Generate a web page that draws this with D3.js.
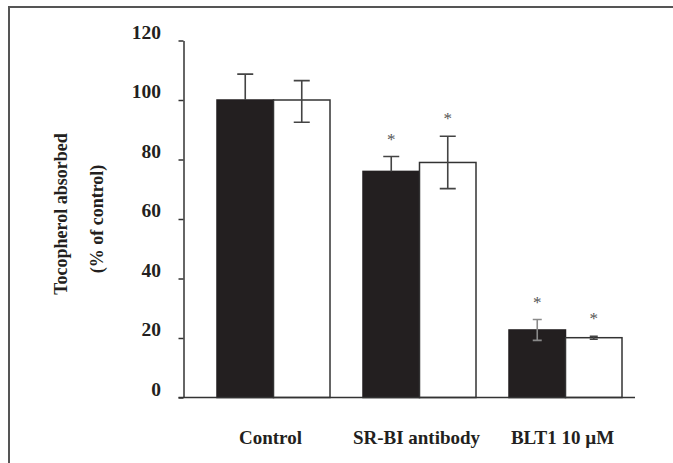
<!DOCTYPE html>
<html>
<head>
<meta charset="utf-8">
<script src="https://cdn.jsdelivr.net/npm/d3@7"></script>
<style>
  body { margin: 0; background: #fff; }
  text { font-family: "Liberation Serif", "Times New Roman", serif; font-weight: bold; }
</style>
</head>
<body>
<div id="chart"></div>
<script>
// values (% of control)
var categories = ["Control", "SR-BI antibody", "BLT1 10 \u00b5M"];
var seriesNames = ["dark", "open"];
var darkValues = [100, 76, 22.7];
var openValues = [100, 79, 20.1];
var darkErrUp = [8.7, 5, 3.5];
var darkErrDown = [0, 0, 3.5];
var openErrUp = [6.5, 8.8, 0.5];
var openErrDown = [7.5, 8.8, 0.5];
var darkStar = [false, true, true];
var openStar = [false, true, true];
var yTicks = [0, 20, 40, 60, 80, 100, 120];

var width = 673,
    height = 463,
    axisX = 183.5,
    baseY = 397.5,
    topY = 40.5;

var rows = [];
categories.forEach(function(c, i) {
  rows.push({cat: c, s: "dark", v: darkValues[i], up: darkErrUp[i], dn: darkErrDown[i], star: darkStar[i], cap: i == 2 ? 4.5 : 8});
  rows.push({cat: c, s: "open", v: openValues[i], up: openErrUp[i], dn: openErrDown[i], star: openStar[i], cap: i == 2 ? 4 : 8});
});

var svg = d3.select("#chart")
  .append("svg")
  .attr("width", width)
  .attr("height", height);

svg.append("rect")
  .attr("width", width)
  .attr("height", height)
  .style("fill", "#fff");

// frame (top and left edges only are visible)
svg.append("path")
  .attr("d", "M9,463 V7 H673")
  .style("fill", "none")
  .style("stroke", "#555")
  .style("stroke-width", 2);

var x0 = d3.scaleBand()
  .domain(categories)
  .range([200.5, 638.5])
  .paddingInner(0.226)
  .paddingOuter(0.113);

var x1 = d3.scaleBand()
  .domain(seriesNames)
  .range([0, x0.bandwidth()]);

var y = d3.scaleLinear()
  .domain([0, 120])
  .range([baseY, topY]);

var fill = d3.scaleOrdinal().domain(seriesNames).range(["#231f20", "#ffffff"]);

// y axis
var yAxis = svg.append("g")
  .attr("transform", "translate(" + axisX + ",0)")
  .call(d3.axisLeft(y).tickValues(yTicks).tickSize(5).tickSizeOuter(0).tickPadding(17.5));

yAxis.selectAll("path, line")
  .style("stroke", "#333")
  .style("stroke-width", 1.5);
yAxis.selectAll("text")
  .attr("dy", -2.5)
  .style("font-size", "19.5px")
  .style("fill", "#231f20");

// bars
var g = svg.selectAll(".bar")
  .data(rows)
  .enter()
  .append("g")
  .attr("class", "bar")
  .attr("transform", function(d) { return "translate(" + (x0(d.cat) + x1(d.s)) + ",0)"; });

g.append("rect")
  .attr("x", 0)
  .attr("y", function(d) { return y(d.v); })
  .attr("width", x1.bandwidth())
  .attr("height", function(d) { return baseY - y(d.v); })
  .style("fill", function(d) { return fill(d.s); })
  .style("stroke", function(d) { return d.s == "dark" ? "#231f20" : "#333"; })
  .style("stroke-width", 1.5);

// error bars
var cx = x1.bandwidth() / 2;
g.append("path")
  .attr("d", function(d) {
    var t = y(d.v + d.up), b = y(d.v - d.dn), s = "M" + cx + "," + t + "V" + b;
    s += "M" + (cx - d.cap) + "," + t + "H" + (cx + d.cap);
    if (d.dn > 0) s += "M" + (cx - d.cap) + "," + b + "H" + (cx + d.cap);
    return s;
  })
  .style("fill", "none")
  .style("stroke", function(d) { return d.s == "dark" && d.dn > 0 ? "#8a8a8a" : "#444"; })
  .style("stroke-width", 1.6);

// significance stars
g.filter(function(d) { return d.star; })
  .append("text")
  .attr("x", cx)
  .attr("y", function(d) { return y(d.v + d.up) - 12; })
  .attr("text-anchor", "middle")
  .style("font-size", "17px")
  .style("font-weight", "normal")
  .style("fill", "#555")
  .text("*");

// x axis line
svg.append("line")
  .attr("x1", axisX - 5)
  .attr("x2", x0.range()[1] - 3.5)
  .attr("y1", baseY)
  .attr("y2", baseY)
  .style("stroke", "#333")
  .style("stroke-width", 1.5);

// category labels
svg.selectAll(".cat")
  .data(categories)
  .enter()
  .append("text")
  .attr("class", "cat")
  .attr("x", function(d) { return x0(d) + x0.bandwidth() / 2 - 3; })
  .attr("y", baseY + 46)
  .attr("text-anchor", "middle")
  .style("font-size", "19px")
  .style("fill", "#231f20")
  .text(function(d) { return d; });

// y title
svg.append("text")
  .attr("transform", "translate(67,214) rotate(-90)")
  .attr("text-anchor", "middle")
  .style("font-size", "18px")
  .style("fill", "#231f20")
  .text("Tocopherol absorbed");

svg.append("text")
  .attr("transform", "translate(103,219) rotate(-90)")
  .attr("text-anchor", "middle")
  .style("font-size", "18px")
  .style("fill", "#231f20")
  .text("(% of control)");
</script>
</body>
</html>
